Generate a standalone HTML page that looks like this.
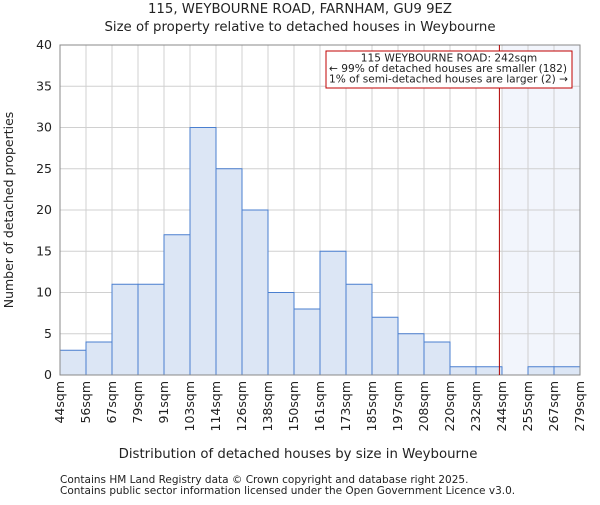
<!DOCTYPE html>
<html><head><meta charset="utf-8"><style>body{margin:0;background:#fff}svg text{font-family:"DejaVu Sans","Liberation Sans",sans-serif;fill:#222}</style></head>
<body>
<svg id="c" width="600" height="500" xmlns="http://www.w3.org/2000/svg">
<text x="300" y="13" text-anchor="middle" font-size="13.3">115, WEYBOURNE ROAD, FARNHAM, GU9 9EZ</text>
<text x="300" y="31" text-anchor="middle" font-size="13.3">Size of property relative to detached houses in Weybourne</text>
<g id="plot"></g>
<text x="298" y="458" text-anchor="middle" font-size="13.3">Distribution of detached houses by size in Weybourne</text>
<text transform="translate(13,210) rotate(-90)" text-anchor="middle" font-size="12.5">Number of detached properties</text>
<text x="60" y="483" font-size="10.5">Contains HM Land Registry data © Crown copyright and database right 2025.</text>
<text x="60" y="494" font-size="10.5">Contains public sector information licensed under the Open Government Licence v3.0.</text>
</svg>
<script>
const edges=["44sqm","56sqm","67sqm","79sqm","91sqm","103sqm","114sqm","126sqm","138sqm","150sqm","161sqm","173sqm","185sqm","197sqm","208sqm","220sqm","232sqm","244sqm","255sqm","267sqm","279sqm"];
const counts=[3,4,11,11,17,30,25,20,10,8,15,11,7,5,4,1,1,0,1,1];
const yTicks=[0,5,10,15,20,25,30,35,40];
const propertyBin=17;
const propertyFrac=0.9;
const X0=60,X1=580,Y0=375,Y1=45,YMAX=40;
const bw=(X1-X0)/counts.length;
const x=i=>X0+i*bw;
const y=v=>Y0-(v/YMAX)*(Y0-Y1);
const ns="http://www.w3.org/2000/svg";
const g=document.getElementById('plot');
function mk(t,a,p){const e=document.createElementNS(ns,t);for(const k in a)e.setAttribute(k,a[k]);(p||g).appendChild(e);return e;}
const sh=mk('rect',{x:x(propertyBin),y:Y1,width:X1-x(propertyBin),height:Y0-Y1,fill:'#f2f5fc'});


yTicks.forEach(t=>{const l=mk('line',{x1:X0,x2:X1,y1:y(t),y2:y(t),stroke:'#d0d0d0'});


const tx=mk('text',{x:X0-8,y:y(t)+4,'text-anchor':'end','font-size':'12.5'});tx.textContent=t;

});
edges.forEach((lab,i)=>{const l=mk('line',{x1:x(i),x2:x(i),y1:Y1,y2:Y0,stroke:'#d0d0d0'});


const tx=mk('text',{transform:`translate(${x(i)+4},${Y0+6}) rotate(-90)`,'text-anchor':'end','font-size':'12.5'});tx.textContent=lab;

});
counts.forEach((v,i)=>{if(v<=0)return;const r=mk('rect',{x:x(i),y:y(v),width:bw,height:Y0-y(v),fill:'#dce6f5',stroke:'#4a7fcf','stroke-width':1});

});
const ax=mk('rect',{x:X0,y:Y1,width:X1-X0,height:Y0-Y1,fill:'none',stroke:'#888'});


const px=x(propertyBin-1)+propertyFrac*bw;
const rl=mk('line',{x1:px,x2:px,y1:Y1,y2:Y0,stroke:'#b00000','stroke-width':1});


const box=mk('rect',{x:326,y:51,width:246,height:37,fill:'#fff',stroke:'#c00000'});


["115 WEYBOURNE ROAD: 242sqm","← 99% of detached houses are smaller (182)","1% of semi-detached houses are larger (2) →"].forEach((s,i)=>{const t=mk('text',{x:i==0?449:329,y:61.5+i*10.5,'text-anchor':i==0?'middle':'start','font-size':'10.6'});t.textContent=s;

});
</script>
</body></html>
